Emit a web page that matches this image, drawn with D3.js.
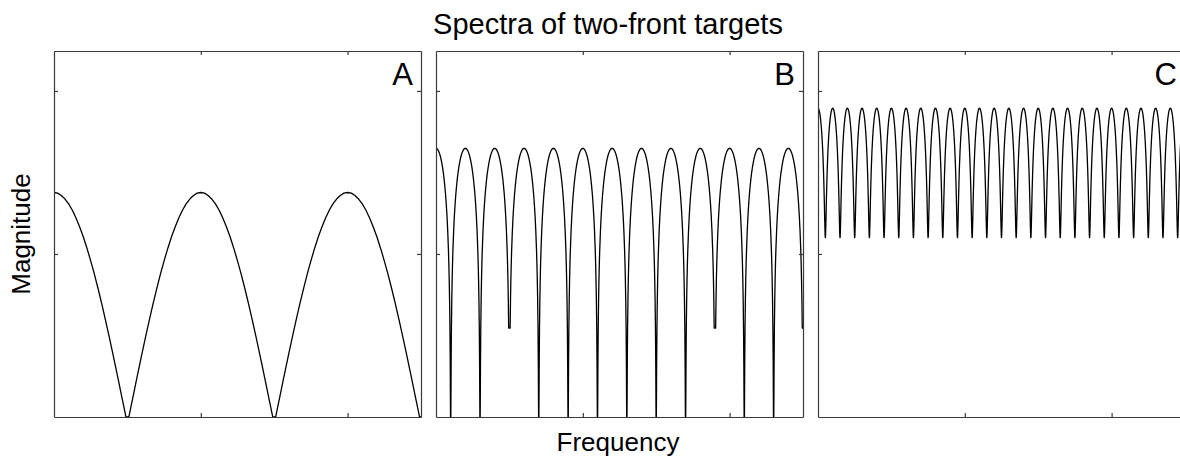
<!DOCTYPE html>
<html>
<head>
<meta charset="utf-8">
<script src="https://cdn.jsdelivr.net/npm/d3@7/dist/d3.min.js"></script>
<style>
  html, body { margin: 0; padding: 0; background: #fff; }
  svg { display: block; }
  text { font-family: "Liberation Sans", Arial, Helvetica, sans-serif; fill: #000; }
</style>
</head>
<body>
<svg id="chart" width="1180" height="463"></svg>
<script>
// ---- data ---------------------------------------------------------------
const freqRange = [0, 2.5];
const freqTicks = [1, 2];
const magRange = [0, 2.245];
const magTicks = [1, 2];

const panelNames = ["A", "B", "C"];
// distance between neighbouring spectral peaks in each panel
const peakSpacing = [1, 0.2, 0.1];

// lowest level reached at each null (left to right)
const dipFloorA = [0, 0, 0];
const dipFloorB = [0, 0, 0.546, 0, 0, 0, 0, 0, 0, 0.546, 0, 0, 0.546];
const dipFloorC = [1.10, 1.10, 1.10, 1.10, 1.10, 1.10, 1.10, 1.10, 1.10, 1.10,
                   1.10, 1.10, 1.10, 1.10, 1.10, 1.10, 1.10, 1.10, 1.10, 1.10,
                   1.10, 1.10, 1.10, 1.10, 1.10];

// arch profile: position from a null (0) to the next peak (1) and the magnitude there
const archT = [0, 0.01, 0.02, 0.03, 0.05, 0.075, 0.1, 0.125, 0.15, 0.2, 0.25, 0.3, 0.35,
               0.4, 0.45, 0.5, 0.55, 0.6, 0.65, 0.7, 0.75, 0.8, 0.85, 0.9, 0.95, 1];
const archA = [0, 0, 0, 0.022, 0.066, 0.121, 0.176, 0.231, 0.285, 0.392, 0.496, 0.597, 0.695,
               0.788, 0.876, 0.958, 1.034, 1.104, 1.166, 1.221, 1.268, 1.307, 1.337, 1.359, 1.373, 1.377];
const archB = [-0.5, -0.156, 0.145, 0.321, 0.543, 0.718, 0.842, 0.938, 1.016, 1.138, 1.231, 1.305, 1.366,
               1.417, 1.461, 1.498, 1.529, 1.556, 1.579, 1.598, 1.614, 1.626, 1.636, 1.643, 1.647, 1.648];
const archC = [1.100, 1.102, 1.108, 1.117, 1.145, 1.191, 1.242, 1.293, 1.342, 1.431, 1.507, 1.571, 1.627,
               1.673, 1.714, 1.749, 1.779, 1.805, 1.827, 1.845, 1.861, 1.873, 1.882, 1.889, 1.893, 1.894];

const dipFloors = [dipFloorA, dipFloorB, dipFloorC];
const arches = [archA, archB, archC];

// ---- layout -------------------------------------------------------------
const panelLeft = [54, 436, 818];
const panelW = 367;
const plotTop = 51, plotBottom = 417;
const tickLen = 4;

const svg = d3.select("#chart");

// build the spectrum polyline of one panel: arches joined at the nulls
function spectrum(k) {
  const sp = peakSpacing[k], half = sp / 2;
  const arch = arches[k], floors = dipFloors[k];
  const pts = [{ f: 0, m: arch[arch.length - 1] }];
  floors.forEach((floor, i) => {
    const dip = (i + 0.5) * sp;
    for (let j = archT.length - 2; j >= 0; j--)
      pts.push({ f: dip - half * archT[j], m: Math.max(arch[j], floor) });
    for (let j = 0; j < archT.length; j++)
      pts.push({ f: dip + half * archT[j], m: Math.max(arch[j], floor) });
  });
  return pts;
}

panelNames.forEach((name, k) => {
  const x = d3.scaleLinear().domain(freqRange).range([panelLeft[k], panelLeft[k] + panelW]);
  const y = d3.scaleLinear().domain(magRange).range([plotBottom, plotTop]);
  const g = svg.append("g");

  const clipId = "clip" + k;
  svg.append("clipPath").attr("id", clipId)
    .append("rect")
    .attr("x", x.range()[0]).attr("y", plotTop)
    .attr("width", panelW).attr("height", plotBottom - plotTop);

  const line = d3.line().x(d => x(d.f)).y(d => y(d.m));
  g.append("path")
    .datum(spectrum(k))
    .attr("clip-path", `url(#${clipId})`)
    .attr("d", line)
    .attr("fill", "none")
    .attr("stroke", "#000")
    .attr("stroke-width", 1.3)
    .attr("stroke-linejoin", "round");

  // box with inward ticks on all four sides
  const axisColor = "#3a3a3a";
  const axB = d3.axisBottom(x).tickValues(freqTicks).tickSize(-tickLen).tickSizeOuter(0).tickFormat("");
  const axT = d3.axisTop(x).tickValues(freqTicks).tickSize(-tickLen).tickSizeOuter(0).tickFormat("");
  const axL = d3.axisLeft(y).tickValues(magTicks).tickSize(-tickLen).tickSizeOuter(0).tickFormat("");
  const axR = d3.axisRight(y).tickValues(magTicks).tickSize(-tickLen).tickSizeOuter(0).tickFormat("");
  [[axB, `translate(0,${plotBottom})`], [axT, `translate(0,${plotTop})`],
   [axL, `translate(${x.range()[0]},0)`], [axR, `translate(${x.range()[1]},0)`]]
    .forEach(([ax, tr]) => {
      const a = g.append("g").attr("transform", tr).call(ax);
      a.selectAll("path,line").attr("stroke", axisColor).attr("stroke-width", 1.2);
    });

  g.append("text")
    .attr("x", x.range()[1] - 8)
    .attr("y", plotTop + 34)
    .attr("text-anchor", "end")
    .attr("font-size", 31)
    .text(name);
});

svg.append("text")
  .attr("x", 608).attr("y", 34)
  .attr("text-anchor", "middle")
  .attr("font-size", 29)
  .text("Spectra of two-front targets");

svg.append("text")
  .attr("x", 618).attr("y", 451)
  .attr("text-anchor", "middle")
  .attr("font-size", 26)
  .text("Frequency");

svg.append("text")
  .attr("transform", `translate(30,${(plotTop + plotBottom) / 2}) rotate(-90)`)
  .attr("text-anchor", "middle")
  .attr("font-size", 26)
  .text("Magnitude");
</script>
</body>
</html>
